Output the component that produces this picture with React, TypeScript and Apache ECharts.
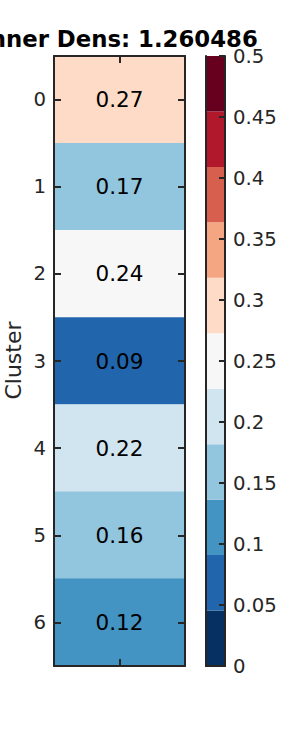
import React, { useEffect, useRef } from "react";
import * as echarts from "echarts";

const titleText = "Inner Dens: 1.260486";
const yLabelText = "Cluster";
const clusters = ["0", "1", "2", "3", "4", "5", "6"];
const xCategories = [""];
const densValues = [0.273, 0.17, 0.24, 0.09, 0.22, 0.16, 0.12];
const cbarColors = [
  "#053061", "#2166ac", "#4393c3", "#92c5de", "#d1e5f0", "#f7f7f7",
  "#fddbc7", "#f4a582", "#d6604d", "#b2182b", "#67001f",
];
const cbarMin = 0;
const cbarMax = 0.5;
const cbarTickStep = 0.05;

const FONT = "DejaVu Sans";
const INK = "#262626";

export default function App() {
  const ref = useRef<HTMLDivElement>(null);
  useEffect(() => {
    if (!ref.current) return;
    const chart = echarts.init(ref.current, undefined, { renderer: "svg" });
    const step = (cbarMax - cbarMin) / cbarColors.length;
    const pieces = cbarColors.map((c, i) => ({
      gte: cbarMin + i * step,
      lt: i === cbarColors.length - 1 ? cbarMax + 1 : cbarMin + (i + 1) * step,
      color: c,
    }));
    const axisLine = { show: true, lineStyle: { color: INK, width: 2 } };
    const tickIn = (len: number) => ({
      show: true,
      inside: true,
      length: len,
      alignWithLabel: true,
      lineStyle: { color: INK, width: 2 },
    });
    const heatData = densValues.map((v, i) => [0, i, v]);
    const cbarSeries = cbarColors.map((c) => ({
      type: "bar",
      xAxisIndex: 2,
      yAxisIndex: 2,
      stack: "cbar",
      barWidth: "100%",
      data: [step],
      itemStyle: { color: c },
      silent: true,
    }));
    chart.setOption({
      animation: false,
      textStyle: { fontFamily: FONT },
      grid: [
        { left: 54, top: 56, width: 131, height: 610 },
        { left: 206, top: 56, width: 19, height: 610 },
      ],
      xAxis: [
        { type: "category", gridIndex: 0, data: xCategories, position: "bottom", z: 10,
          axisLine, axisTick: tickIn(7), axisLabel: { show: false }, splitLine: { show: false } },
        { type: "category", gridIndex: 0, data: xCategories, position: "top", z: 10,
          axisLine, axisTick: tickIn(7), axisLabel: { show: false }, splitLine: { show: false } },
        { type: "category", gridIndex: 1, data: xCategories, position: "bottom", z: 10,
          axisLine, axisTick: { show: false }, axisLabel: { show: false }, splitLine: { show: false } },
        { type: "category", gridIndex: 1, data: xCategories, position: "top", z: 10,
          axisLine, axisTick: { show: false }, axisLabel: { show: false }, splitLine: { show: false } },
      ],
      yAxis: [
        { type: "category", gridIndex: 0, data: clusters, inverse: true, position: "left", z: 10,
          axisLine, axisTick: tickIn(7),
          axisLabel: { show: true, color: INK, fontSize: 19.7, fontFamily: FONT, margin: 8 },
          splitLine: { show: false } },
        { type: "category", gridIndex: 0, data: clusters, inverse: true, position: "right", z: 10,
          axisLine, axisTick: tickIn(7), axisLabel: { show: false }, splitLine: { show: false } },
        { type: "value", gridIndex: 1, min: cbarMin, max: cbarMax, interval: cbarTickStep,
          position: "right", z: 10, axisLine,
          axisTick: { show: true, inside: true, length: 6, lineStyle: { color: INK, width: 2 } },
          axisLabel: { show: true, color: INK, fontSize: 19.7, fontFamily: FONT, margin: 8 },
          splitLine: { show: false } },
        { type: "value", gridIndex: 1, min: cbarMin, max: cbarMax, interval: cbarTickStep,
          position: "left", z: 10, axisLine,
          axisTick: { show: false }, axisLabel: { show: false }, splitLine: { show: false } },
      ],
      visualMap: {
        type: "piecewise",
        show: false,
        seriesIndex: 0,
        dimension: 2,
        pieces,
      },
      series: [
        {
          type: "heatmap",
          xAxisIndex: 0,
          yAxisIndex: 0,
          data: heatData,
          label: {
            show: true,
            color: "#000",
            fontSize: 21.5,
            fontFamily: FONT,
            formatter: (p: any) => Number(p.value[2]).toFixed(2),
          },
          itemStyle: { borderWidth: 0 },
          emphasis: { disabled: true },
        },
        ...cbarSeries,
      ],
      graphic: [
        {
          type: "text",
          x: 119.5,
          y: 39,
          style: {
            text: titleText,
            fill: "#000",
            font: `bold 22.8px "${FONT}"`,
            align: "center",
            verticalAlign: "middle",
          },
        },
        {
          type: "text",
          x: 13,
          y: 360.5,
          rotation: Math.PI / 2,
          style: {
            text: yLabelText,
            fill: INK,
            font: `22px "${FONT}"`,
            align: "center",
            verticalAlign: "middle",
          },
        },
      ],
    });
    return () => chart.dispose();
  }, []);
  return (
    <div
      ref={ref}
      style={{ position: "fixed", left: 0, top: 0, width: 300, height: 750, background: "#fff" }}
    />
  );
}
